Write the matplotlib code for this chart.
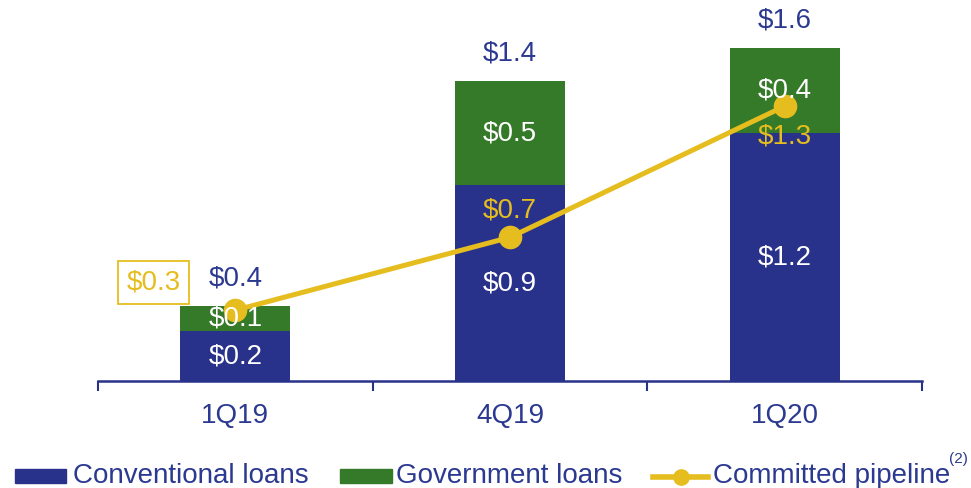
import matplotlib
matplotlib.use('Agg')
import matplotlib.pyplot as plt
from matplotlib.patches import Rectangle
from matplotlib.lines import Line2D
import numpy as np

quarters = ['1Q19', '4Q19', '1Q20']
conventional = [0.24, 0.94, 1.19]
government = [0.12, 0.50, 0.41]
pipeline = [0.34, 0.69, 1.32]

BLUE = '#29328B'
GREEN = '#357A29'
YELLOW = '#E6BD1E'
TEXT = '#2B3990'
FS = 20

plt.rcParams['font.family'] = ['Liberation Sans', 'DejaVu Sans']

W, H = 971, 488
fig = plt.figure(figsize=(W / 100, H / 100), dpi=100)
ax = fig.add_axes([98 / W, 107 / H, 824 / W, 381 / H])

x = np.arange(len(quarters))
conv = np.array(conventional)
gov = np.array(government)
total = conv + gov
w = 0.40

ax.bar(x, conv, width=w, color=BLUE, edgecolor='none', zorder=2)
ax.bar(x, gov, width=w, bottom=conv, color=GREEN, edgecolor='none', zorder=2)
ax.plot(x, pipeline, color=YELLOW, lw=3.6, marker='o', ms=16, zorder=3)

# values inside the bars and totals above
for i in range(len(x)):
    ax.text(x[i], conv[i] / 2, '$%.1f' % conv[i], color='white', fontsize=FS,
            ha='center', va='center', zorder=4)
    ax.text(x[i], conv[i] + gov[i] / 2, '$%.1f' % gov[i], color='white', fontsize=FS,
            ha='center', va='center', zorder=4)
    ax.annotate('$%.1f' % total[i], (x[i], total[i]), xytext=(0, 20),
                textcoords='offset points', color=TEXT, fontsize=FS,
                ha='center', va='center')

# pipeline labels
ax.annotate('$%.1f' % pipeline[0], (x[0], pipeline[0]), xytext=(-59, 20),
            textcoords='offset points', color=YELLOW, fontsize=FS,
            ha='center', va='center', zorder=5,
            bbox=dict(boxstyle='square,pad=0.3', fc='white', ec=YELLOW, lw=1.3))
ax.annotate('$%.1f' % pipeline[1], (x[1], pipeline[1]), xytext=(0, 19),
            textcoords='offset points', color=YELLOW, fontsize=FS,
            ha='center', va='center', zorder=5)
ax.annotate('$%.1f' % pipeline[2], (x[2], pipeline[2]), xytext=(0, -22),
            textcoords='offset points', color=YELLOW, fontsize=FS,
            ha='center', va='center', zorder=5)

ax.set_xlim(-0.5, len(x) - 0.5)
ax.set_ylim(0, 1.83)
for s in ['top', 'right', 'left']:
    ax.spines[s].set_visible(False)
ax.spines['bottom'].set_color(BLUE)
ax.spines['bottom'].set_linewidth(1.8)
ax.set_yticks([])
ax.set_xticks(np.arange(-0.5, len(x), 1.0))
ax.set_xticklabels([])
ax.tick_params(axis='x', direction='out', length=7, width=1.5, color=BLUE)
for i, q in enumerate(quarters):
    ax.annotate(q, (x[i], 0), xytext=(0, -25), textcoords='offset points',
                color=TEXT, fontsize=FS, ha='center', va='center')

# legend row along the bottom edge
def fx(px):
    return px / W

def fy(py):
    return 1 - py / H

fig.add_artist(Rectangle((fx(15), fy(483)), 51 / W, 14 / H, color=BLUE,
                         transform=fig.transFigure))
fig.add_artist(Rectangle((fx(340), fy(483)), 52 / W, 14 / H, color=GREEN,
                         transform=fig.transFigure))
fig.add_artist(Line2D([fx(653), fx(708)], [fy(477), fy(477)], color=YELLOW,
                      lw=4, transform=fig.transFigure))
fig.add_artist(Line2D([fx(680.5)], [fy(477)], color=YELLOW, marker='o', ms=11,
                      transform=fig.transFigure))
for px, label in [(73, 'Conventional loans'), (396, 'Government loans'),
                  (713, 'Committed pipeline')]:
    fig.text(fx(px), fy(483), label, color=TEXT, fontsize=FS,
             ha='left', va='baseline')
fig.text(fx(958), fy(459), '(2)', color=TEXT, fontsize=11,
         ha='center', va='center')

fig.savefig('out.png', dpi=100)
